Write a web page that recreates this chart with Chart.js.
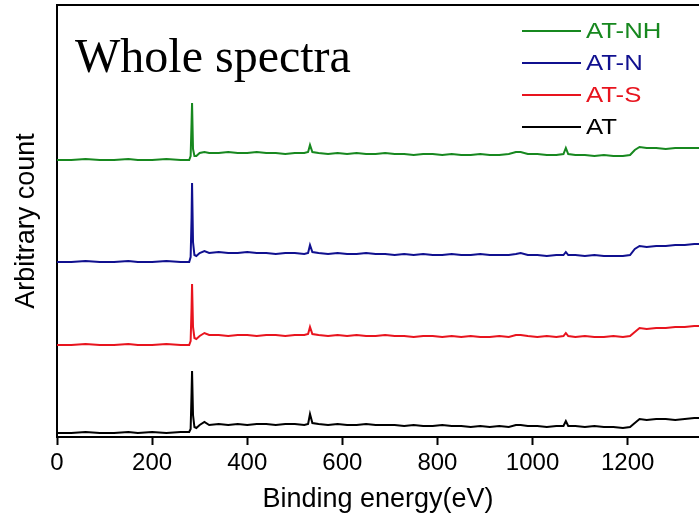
<!DOCTYPE html>
<html lang="en">
  <head>
    <meta charset="UTF-8" />
    <title>Whole spectra</title>
    <script src="https://cdn.jsdelivr.net/npm/chart.js"></script>
    <style>
      html, body { margin: 0; padding: 0; background: #ffffff; }
      #wrap { position: relative; width: 699px; height: 520px; }
    </style>
  </head>
  <body>
    <div id="wrap"><canvas id="myChart"></canvas></div>

    <script>
      // binding energy (eV)
      const energy = [0, 30, 60, 90, 120, 150, 170, 200, 230, 260, 278, 281, 283, 284, 286, 289, 293, 300, 310, 320,
        340, 360, 380, 400, 420, 440, 460, 480, 500, 520, 528, 532, 537, 550, 570, 590, 610, 630, 650, 670,
        690, 710, 730, 750, 770, 790, 810, 830, 850, 870, 890, 910, 930, 950, 965, 975, 990, 1010, 1030, 1050,
        1065, 1070, 1075, 1090, 1110, 1130, 1150, 1170, 1190, 1205, 1215, 1225, 1240, 1260, 1280, 1300, 1320, 1340, 1350];

      // arbitrary counts, already stacked with an offset per sample
      const atNH = [277, 277, 278, 277, 277, 278, 277, 277, 278, 277, 277, 281, 315, 334, 288, 281, 281, 284, 285, 284,
        284, 285, 284, 284, 285, 284, 284, 283, 284, 284, 285, 292, 285, 284, 283, 284, 283, 284, 283, 283,
        284, 283, 283, 282, 283, 283, 282, 283, 282, 282, 283, 282, 282, 283, 285, 285, 283, 283, 282, 282,
        283, 289, 283, 282, 282, 281, 282, 281, 281, 282, 287, 290, 289, 289, 288, 289, 289, 289, 289];
      const atN = [175, 175, 176, 175, 175, 176, 175, 175, 176, 175, 175, 180, 220, 254, 195, 182, 181, 184, 186, 184,
        185, 184, 184, 185, 184, 184, 183, 184, 184, 183, 184, 192, 185, 184, 183, 184, 183, 183, 184, 183,
        183, 182, 183, 182, 183, 182, 182, 183, 182, 182, 183, 182, 182, 182, 183, 184, 182, 182, 181, 182,
        182, 185, 182, 182, 181, 182, 181, 181, 181, 182, 188, 191, 190, 191, 191, 192, 192, 193, 193];
      const atS = [92, 92, 93, 92, 92, 93, 92, 92, 93, 92, 92, 96, 130, 153, 110, 99, 98, 101, 104, 102,
        102, 101, 102, 102, 101, 102, 102, 101, 102, 102, 103, 110, 103, 102, 101, 102, 101, 102, 101, 101,
        102, 101, 101, 100, 101, 101, 100, 101, 100, 101, 100, 100, 101, 100, 102, 102, 101, 100, 101, 100,
        101, 104, 101, 100, 101, 100, 100, 101, 100, 101, 105, 109, 108, 109, 109, 110, 110, 111, 111];
      const at = [4, 4, 5, 4, 4, 5, 4, 5, 4, 5, 5, 8, 45, 66, 22, 10, 9, 12, 15, 12,
        13, 12, 13, 12, 13, 13, 12, 13, 13, 12, 13, 23, 14, 13, 12, 13, 12, 12, 13, 12,
        12, 12, 11, 12, 11, 11, 12, 11, 11, 10, 11, 10, 11, 10, 12, 12, 11, 11, 10, 11,
        11, 16, 11, 11, 10, 11, 10, 10, 9, 10, 14, 18, 17, 18, 18, 17, 18, 19, 19];

      const seriesNames = ["AT-NH", "AT-N", "AT-S", "AT"];
      const seriesColors = ["#17881f", "#10108f", "#e8141e", "#000000"];
      const xTicks = [0, 200, 400, 600, 800, 1000, 1200];

      const toPoints = vals => energy.map((x, i) => ({ x, y: vals[i] }));

      const datasets = [atNH, atN, atS, at].map((vals, i) => ({
        label: seriesNames[i],
        data: toPoints(vals),
        borderColor: seriesColors[i],
        borderWidth: 2,
        pointRadius: 0,
        tension: 0
      }));

      // frame top line, big title and the line legend
      const decor = {
        id: "decor",
        afterDraw(chart) {
          const c = chart.ctx;
          const a = chart.chartArea;
          c.save();
          c.strokeStyle = "#000";
          c.lineWidth = 2;
          c.beginPath();
          c.moveTo(a.left, a.top);
          c.lineTo(a.right, a.top);
          c.stroke();

          c.fillStyle = "#000";
          c.font = "48px 'Liberation Serif'";
          c.textBaseline = "alphabetic";
          c.fillText("Whole spectra", 75, 72);

          c.font = "22px 'Liberation Sans'";
          c.textBaseline = "middle";
          chart.data.datasets.forEach((ds, i) => {
            const y = 31 + i * 32;
            c.strokeStyle = ds.borderColor;
            c.lineWidth = 2;
            c.beginPath();
            c.moveTo(522, y);
            c.lineTo(581, y);
            c.stroke();
            // the legend text in the source is slightly wide
            c.save();
            c.translate(586, y + 1);
            c.scale(1.17, 1);
            c.fillStyle = ds.borderColor;
            c.fillText(ds.label, 0, 0);
            c.restore();
          });
          c.restore();
        }
      };

      new Chart(document.getElementById("myChart"), {
        type: "line",
        data: { datasets },
        options: {
          responsive: true,
          maintainAspectRatio: false,
          animation: false,
          layout: { padding: { top: 5, left: 0, right: 0, bottom: 0 } },
          plugins: { legend: { display: false }, tooltip: { enabled: false } },
          scales: {
            x: {
              type: "linear",
              min: 0,
              max: 1350,
              afterFit: s => { s.height = 83; },
              afterBuildTicks: s => { s.ticks = xTicks.map(v => ({ value: v })); },
              ticks: {
                color: "#000",
                padding: 4,
                font: { family: "'Liberation Sans'", size: 24 },
                maxRotation: 0,
                callback: v => String(v)
              },
              grid: { drawOnChartArea: false, drawTicks: true, tickLength: 8, tickWidth: 2, color: "#000" },
              border: { color: "#000", width: 2 },
              title: {
                display: true,
                text: "Binding energy(eV)",
                color: "#000",
                font: { family: "'Liberation Sans'", size: 27 },
                padding: { top: 0, bottom: 4 }
              }
            },
            y: {
              min: 0,
              max: 432,
              afterFit: s => { s.width = 57; },
              ticks: { display: false },
              grid: { display: false },
              border: { color: "#000", width: 2 },
              title: {
                display: true,
                text: "Arbitrary count",
                color: "#000",
                font: { family: "'Liberation Sans'", size: 27 },
                padding: { top: 10, bottom: 0 }
              }
            }
          }
        },
        plugins: [decor]
      });
    </script>
  </body>
</html>
